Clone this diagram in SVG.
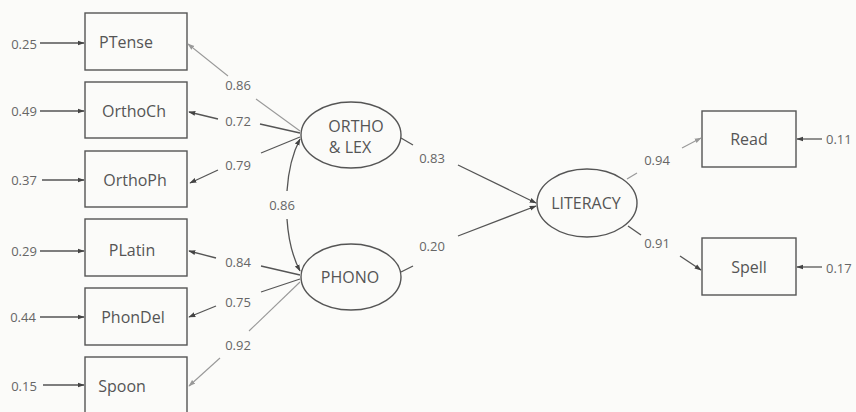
<svg xmlns="http://www.w3.org/2000/svg" width="856" height="412" viewBox="0 0 856 412">
<style>
.box{fill:none;stroke:#555;stroke-width:1.4}
.ell{fill:none;stroke:#555;stroke-width:1.4}
.lbl{font-family:"Open Sans","Liberation Sans",sans-serif;font-size:16px;fill:#555;text-anchor:middle;dominant-baseline:central}
.num{font-family:"Open Sans","Liberation Sans",sans-serif;font-size:13px;fill:#666;text-anchor:middle;dominant-baseline:central}
.numL{font-family:"Open Sans","Liberation Sans",sans-serif;font-size:13px;fill:#666;text-anchor:start;dominant-baseline:central}
.ln{fill:none;stroke:#555;stroke-width:1.3}
.lt{fill:none;stroke:#999;stroke-width:1.1}
.ar{marker-end:url(#ah)}
.arl{marker-end:url(#ahl)}
</style>
<defs>
<marker id="ah" viewBox="0 0 10 10" refX="9" refY="5" markerWidth="7" markerHeight="7" markerUnits="userSpaceOnUse" orient="auto"><path d="M0,1.5 L10,5 L0,8.5 z" fill="#444"/></marker>
<marker id="ahl" viewBox="0 0 10 10" refX="9" refY="5" markerWidth="7" markerHeight="7" markerUnits="userSpaceOnUse" orient="auto"><path d="M0,1.5 L10,5 L0,8.5 z" fill="#999"/></marker>
</defs>
<rect width="856" height="412" fill="#fbfbf9"/>

<g id="PTense"><rect class="box" x="85" y="13" width="102" height="57"/><text class="lbl" x="126" y="42">PTense</text></g>
<g id="OrthoCh"><rect class="box" x="85" y="82" width="102" height="56"/><text class="lbl" x="134" y="111">OrthoCh</text></g>
<g id="OrthoPh"><rect class="box" x="85" y="151" width="102" height="56"/><text class="lbl" x="135" y="180">OrthoPh</text></g>
<g id="PLatin"><rect class="box" x="85" y="219" width="102" height="57"/><text class="lbl" x="132" y="250">PLatin</text></g>
<g id="PhonDel"><rect class="box" x="85" y="288" width="102" height="57"/><text class="lbl" x="133" y="317">PhonDel</text></g>
<g id="Spoon"><rect class="box" x="85" y="357" width="102" height="57"/><text class="lbl" x="122" y="386">Spoon</text></g>

<g id="ORTHO_LEX"><ellipse class="ell" cx="351" cy="135" rx="50" ry="33"/><text class="lbl" x="356" y="126">ORTHO</text><text class="lbl" x="350" y="147">&amp; LEX</text></g>
<g id="PHONO"><ellipse class="ell" cx="351" cy="277" rx="50" ry="33"/><text class="lbl" x="350" y="277">PHONO</text></g>
<g id="LITERACY"><ellipse class="ell" cx="587" cy="203" rx="50" ry="34"/><text class="lbl" x="586" y="203">LITERACY</text></g>

<g id="Read"><rect class="box" x="702" y="111" width="94" height="56"/><text class="lbl" x="749" y="139">Read</text></g>
<g id="Spell"><rect class="box" x="702" y="238" width="94" height="57"/><text class="lbl" x="749" y="267">Spell</text></g>

<g id="connectors">
<line class="ln ar" x1="40" y1="43" x2="84" y2="43"/>
<line class="ln ar" x1="40" y1="111" x2="84" y2="111"/>
<line class="ln ar" x1="42" y1="180" x2="84" y2="180"/>
<line class="ln ar" x1="40" y1="251" x2="84" y2="251"/>
<line class="ln ar" x1="40" y1="317" x2="84" y2="317"/>
<line class="ln ar" x1="43" y1="385" x2="84" y2="385"/>
<text class="num" x="24" y="44">0.25</text>
<text class="num" x="24" y="111">0.49</text>
<text class="num" x="24" y="180">0.37</text>
<text class="num" x="24" y="251">0.29</text>
<text class="num" x="23" y="317">0.44</text>
<text class="num" x="24" y="386">0.15</text>

<line class="lt" x1="300" y1="131" x2="256" y2="99"/>
<line class="lt arl" x1="228" y1="76" x2="188" y2="44"/>
<text class="num" x="238" y="85">0.86</text>
<line class="ln" x1="300" y1="133" x2="260" y2="124"/>
<line class="ln ar" x1="218" y1="119" x2="189" y2="112"/>
<text class="num" x="238" y="121">0.72</text>
<line class="ln" x1="300" y1="137" x2="261" y2="153"/>
<line class="ln ar" x1="218" y1="170" x2="190" y2="183"/>
<text class="num" x="238" y="165">0.79</text>

<path class="ln ar" d="M287,191 Q289,160 300,139"/>
<path class="ln ar" d="M287,219 Q289,250 300,271"/>
<text class="num" x="282" y="205">0.86</text>

<line class="ln" x1="300" y1="275" x2="261" y2="266"/>
<line class="ln ar" x1="216" y1="258" x2="189" y2="251"/>
<text class="num" x="238" y="262">0.84</text>
<line class="ln" x1="300" y1="279" x2="261" y2="292"/>
<line class="ln ar" x1="216" y1="306" x2="189" y2="317"/>
<text class="num" x="238" y="302">0.75</text>
<line class="lt" x1="300" y1="282" x2="249" y2="331"/>
<line class="lt arl" x1="220" y1="358" x2="189" y2="386"/>
<text class="num" x="238" y="345">0.92</text>

<line class="ln" x1="401" y1="138" x2="413" y2="145"/>
<line class="ln ar" x1="458" y1="165" x2="536" y2="203"/>
<text class="num" x="432" y="158">0.83</text>
<line class="ln" x1="401" y1="272" x2="413" y2="266"/>
<line class="ln ar" x1="458" y1="236" x2="536" y2="206"/>
<text class="num" x="432" y="246">0.20</text>

<line class="lt" x1="627" y1="179" x2="637" y2="173"/>
<line class="lt arl" x1="682" y1="148" x2="701" y2="138"/>
<text class="num" x="657" y="160">0.94</text>
<line class="ln" x1="628" y1="226" x2="641" y2="235"/>
<line class="ln ar" x1="680" y1="256" x2="701" y2="270"/>
<text class="num" x="657" y="243">0.91</text>

<line class="ln ar" x1="822" y1="139" x2="797" y2="139"/>
<line class="ln ar" x1="822" y1="267" x2="797" y2="267"/>
<text class="numL" x="826" y="139">0.11</text>
<text class="numL" x="826" y="268">0.17</text>
</g>
</svg>
